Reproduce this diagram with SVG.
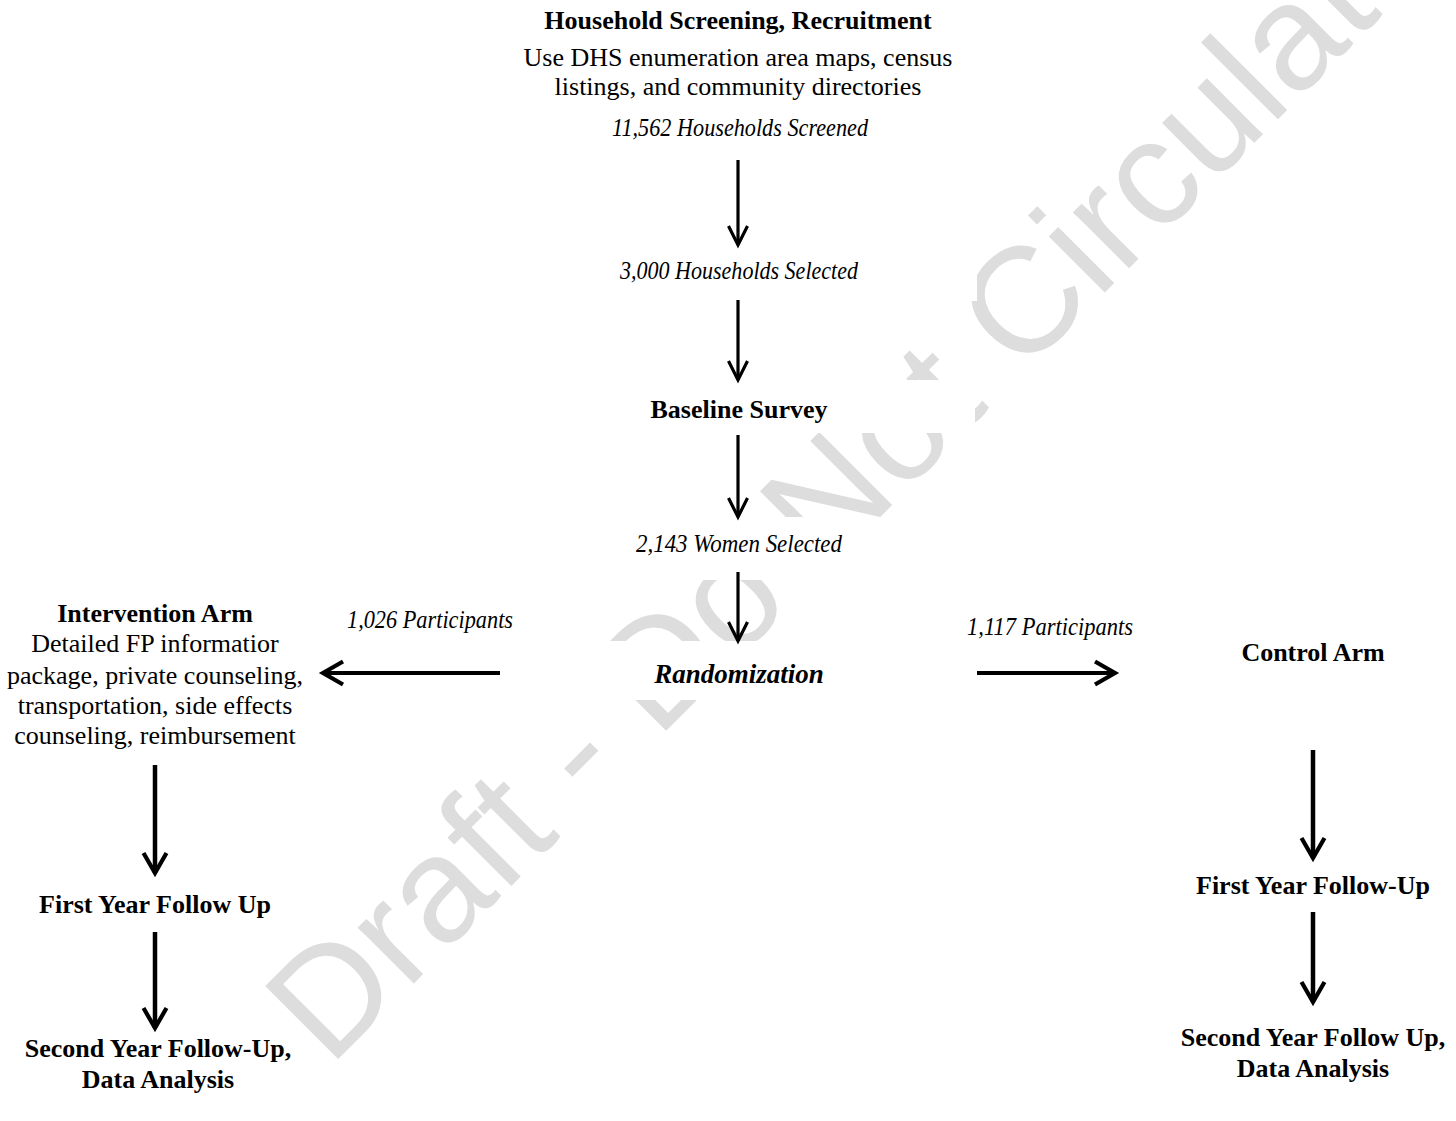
<svg xmlns="http://www.w3.org/2000/svg" width="1456" height="1121" viewBox="0 0 1456 1121">
<style>
text{font-family:"Liberation Serif","Times New Roman",serif;fill:#000;text-anchor:middle}
.b{font-size:26px;font-weight:bold}
.r{font-size:26px}
.i{font-size:25px;font-style:italic}
.bi{font-size:27px;font-weight:bold;font-style:italic}
.bg{fill:#fff}
.wm{font-family:"Liberation Sans",Arial,sans-serif;font-size:150px;fill:#dddddd;text-anchor:start}
.c1{stroke:#000;stroke-width:3.2;fill:none}
.c2{stroke:#000;stroke-width:4.5;fill:none}
.c3{stroke:#000;stroke-width:4;fill:none}
</style>
<defs>
<marker id="ah1" markerUnits="userSpaceOnUse" markerWidth="26" markerHeight="24" refX="20" refY="10" orient="auto" overflow="visible">
<path d="M1,0.5 L20,10 L1,19.5" fill="none" stroke="#000" stroke-width="3.2" stroke-linejoin="miter"/>
</marker>
<marker id="ah2" markerUnits="userSpaceOnUse" markerWidth="28" markerHeight="28" refX="21" refY="12" orient="auto" overflow="visible">
<path d="M1,0.5 L21,12 L1,23.5" fill="none" stroke="#000" stroke-width="4.2" stroke-linejoin="miter"/>
</marker>
</defs>
<rect width="1456" height="1121" fill="#fff"/>
<text class="wm" transform="rotate(-45)" x="-522" y="988" textLength="1575" lengthAdjust="spacing">Draft - Do Not Circulate</text>

<g id="n-household">
<text class="b" x="738" y="29">Household Screening, Recruitment</text>
<text class="r" x="738" y="66">Use DHS enumeration area maps, census</text>
<text class="r" x="738" y="95">listings, and community directories</text>
<text class="i" x="740" y="136" textLength="256" lengthAdjust="spacingAndGlyphs">11,562 Households Screened</text>
</g>
<g id="n-selected">
<rect class="bg" x="500" y="250" width="477" height="51"/>
<text class="i" x="739" y="279" textLength="238" lengthAdjust="spacingAndGlyphs">3,000 Households Selected</text>
</g>
<g id="n-baseline">
<rect class="bg" x="500" y="380" width="475" height="53"/>
<text class="b" x="739" y="418">Baseline Survey</text>
</g>
<g id="n-women">
<rect class="bg" x="520" y="517" width="480" height="63"/>
<text class="i" x="739" y="552" textLength="206" lengthAdjust="spacingAndGlyphs">2,143 Women Selected</text>
</g>
<g id="n-random">
<rect class="bg" x="520" y="641" width="460" height="59"/>
<text class="bi" x="739" y="683">Randomization</text>
</g>
<g id="n-intervention">
<text class="b" x="155" y="622">Intervention Arm</text>
<text class="r" x="155" y="652">Detailed FP informatior</text>
<text class="r" x="155" y="684">package, private counseling,</text>
<text class="r" x="155" y="714">transportation, side effects</text>
<text class="r" x="155" y="744">counseling, reimbursement</text>
</g>
<g id="n-control">
<text class="b" x="1313" y="661">Control Arm</text>
</g>
<g id="n-first-left">
<text class="b" x="155" y="913">First Year Follow Up</text>
</g>
<g id="n-second-left">
<rect class="bg" x="0" y="930" width="243" height="100"/>
<rect class="bg" x="0" y="1030" width="296" height="91"/>
<text class="b" x="158" y="1057">Second Year Follow-Up,</text>
<text class="b" x="158" y="1088">Data Analysis</text>
</g>
<g id="n-first-right">
<text class="b" x="1313" y="894">First Year Follow-Up</text>
</g>
<g id="n-second-right">
<text class="b" x="1313" y="1046">Second Year Follow Up,</text>
<text class="b" x="1313" y="1077">Data Analysis</text>
</g>

<g id="connectors">
<line class="c1" x1="738" y1="160" x2="738" y2="245" marker-end="url(#ah1)"/>
<line class="c1" x1="738" y1="300" x2="738" y2="380" marker-end="url(#ah1)"/>
<line class="c1" x1="738" y1="435" x2="738" y2="517" marker-end="url(#ah1)"/>
<line class="c1" x1="738" y1="572" x2="738" y2="641" marker-end="url(#ah1)"/>
<line class="c3" x1="500" y1="673" x2="323" y2="673" marker-end="url(#ah2)"/>
<line class="c3" x1="977" y1="673" x2="1115" y2="673" marker-end="url(#ah2)"/>
<text class="i" x="430" y="628" textLength="166" lengthAdjust="spacingAndGlyphs">1,026 Participants</text>
<text class="i" x="1050" y="635" textLength="166" lengthAdjust="spacingAndGlyphs">1,117 Participants</text>
<line class="c2" x1="155" y1="765" x2="155" y2="873" marker-end="url(#ah2)"/>
<line class="c2" x1="155" y1="932" x2="155" y2="1028" marker-end="url(#ah2)"/>
<line class="c2" x1="1313" y1="750" x2="1313" y2="858" marker-end="url(#ah2)"/>
<line class="c2" x1="1313" y1="912" x2="1313" y2="1002" marker-end="url(#ah2)"/>
</g>
</svg>
